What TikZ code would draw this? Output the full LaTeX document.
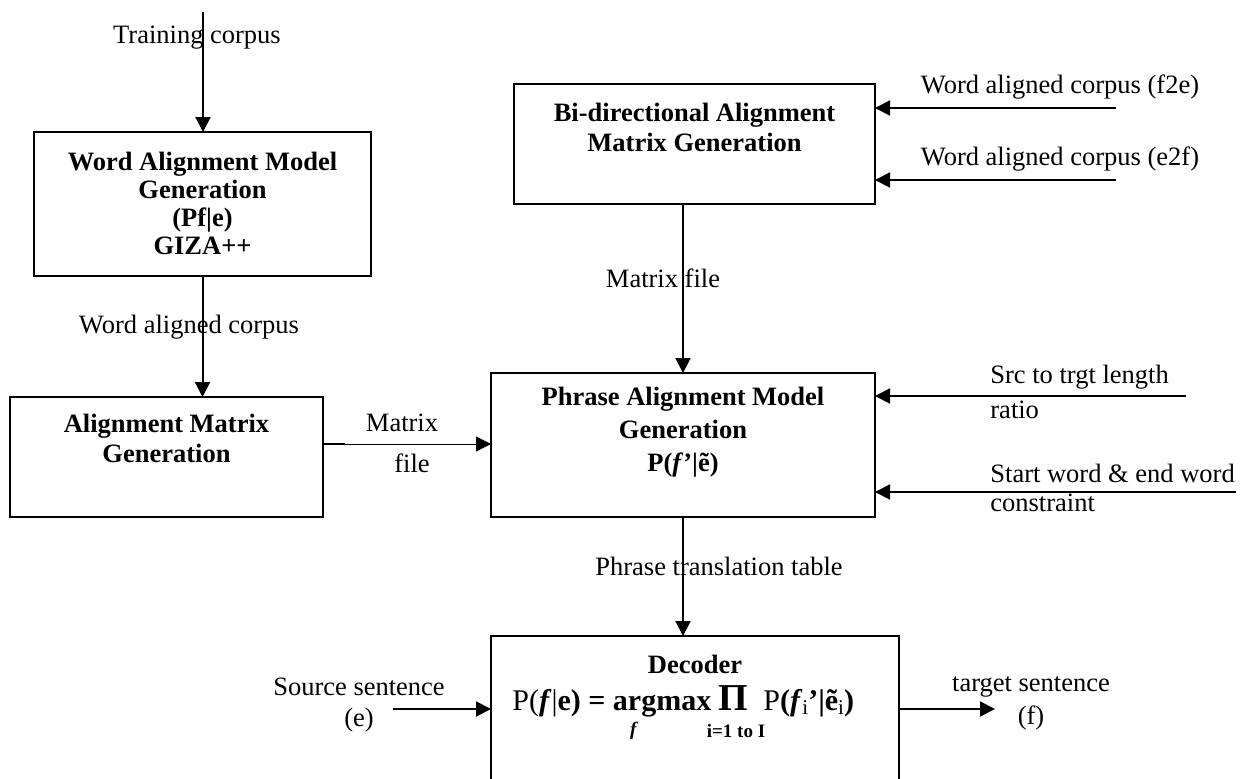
\documentclass[tikz,border=0pt]{standalone}
\usepackage{fontspec}
\setmainfont{Liberation Serif}
\usetikzlibrary{arrows.meta}
\begin{document}
\begin{tikzpicture}[x=0.5pt,y=-0.5pt]
\tikzset{
  box/.style={draw, line width=1pt, inner sep=0pt, outer sep=0pt},
  lbl/.style={font=\fontsize{13.25}{13.6}\selectfont, inner sep=0pt, align=center},
  lbll/.style={lbl, anchor=west, align=left},
  btxt/.style={inner sep=0pt, align=center, font=\fontsize{13.25}{14}\selectfont\bfseries},
  arr/.style={line width=1pt, -{Triangle[length=7.5pt,width=7.5pt]}},
  sub/.style={inner sep=0pt, font=\fontsize{9.5}{10}\selectfont\bfseries}
}
\useasboundingbox (0,0) rectangle (1253,778);

% boxes
\node[box, minimum width=168.5pt, minimum height=72pt] (b1) at (202.5,204) {};
\node[box, minimum width=180.5pt, minimum height=60pt] (b2) at (694.5,144) {};
\node[box, minimum width=156.5pt, minimum height=60pt] (b3) at (166.5,457) {};
\node[box, minimum width=192pt, minimum height=72pt] (b4) at (683,445) {};
\node[box, minimum width=204pt, minimum height=90pt] (b5) at (695,726) {};

% box texts
\node[btxt] (t1) at (202.5,203) {Word Alignment Model\\Generation\\(Pf|e)\\GIZA++};
\node[btxt, font=\fontsize{13.25}{15}\selectfont\bfseries] (t2) at (694.5,127) {Bi-directional Alignment\\Matrix Generation};
\node[btxt, font=\fontsize{13.25}{15}\selectfont\bfseries] (t3) at (166.5,438) {Alignment Matrix\\Generation};
\node[btxt, font=\fontsize{13.25}{16.5}\selectfont\bfseries] (t4) at (683,432) {Phrase Alignment Model\\Generation\\P(\textit{f}’|ẽ)};
\node[btxt] (t5) at (695,664) {Decoder};
\node[lbl, anchor=west, font=\fontsize{15}{15}\selectfont] (eq) at (512,701) {P(\textbf{\textit{f}}|\textbf{e) = argmax} {\fontsize{19}{19}\selectfont\bfseries Π}\ \ P\textbf{(\textit{f}}\raisebox{-0.3ex}{\fontsize{10.5}{11}\selectfont i}\textbf{’|ẽ}\raisebox{-0.3ex}{\fontsize{10.5}{11}\selectfont i}\textbf{)}};
\node[sub] (s1) at (634,731) {\textit{f}};
\node[sub] (s2) at (736,731) {i=1 to I};

% free ends
\coordinate (tc) at (203,12);
\coordinate (f2e) at (1116,108);
\coordinate (e2f) at (1116,180);
\coordinate (src) at (1186,396);
\coordinate (swe) at (1236,492);
\coordinate (ym) at (0,444);
\coordinate (ys) at (0,709);
\coordinate (srcs) at (393,709);
\coordinate (tgt) at (995,709);

% connectors
\draw[arr] (tc) -- (tc |- b1.north);
\draw[arr] (b1.south) -- (b1.south |- b3.north);
\draw[arr] (b4.north |- b2.south) -- (b4.north);
\draw[arr] (b4.south) -- (b4.south |- b5.north);
\draw[arr, line width=0.5pt] (b3.east |- ym) -- (b4.west |- ym);
\draw[line width=1pt] (b3.east |- ym) -- ++(22,0);
\draw[arr] (f2e) -- (b2.east |- f2e);
\draw[arr] (e2f) -- (b2.east |- e2f);
\draw[arr] (src) -- (b4.east |- src);
\draw[arr] (swe) -- (b4.east |- swe);
\draw[arr] (srcs) -- (b5.west |- ys);
\draw[arr] (b5.east |- ys) -- (tgt);

% labels
\node[lbl] (l1) at (197,38) {Training corpus};
\node[lbl] (l2) at (189,327) {Word aligned corpus};
\node[lbl] (l3) at (402,423) {Matrix};
\node[lbl] (l4) at (412,463) {file};
\node[lbl] (l5) at (663,278) {Matrix file};
\node[lbl] (l6) at (1060,87) {Word aligned corpus (f2e)};
\node[lbl] (l7) at (1060,159) {Word aligned corpus (e2f)};
\node[lbll] (l8) at (990,377) {Src to trgt length};
\node[lbll] (l9) at (990,410) {ratio};
\node[lbll] (l10) at (990,473) {Start word \& end word};
\node[lbll] (l11) at (990,503) {constraint};
\node[lbl] (l12) at (719,566) {Phrase translation table};
\node[lbl] (l13) at (359,687) {Source sentence};
\node[lbl] (l14) at (359,720) {(e)};
\node[lbl] (l15) at (1031,687) {target sentence};
\node[lbl] (l16) at (1031,718) {(f)};
\end{tikzpicture}
\end{document}
